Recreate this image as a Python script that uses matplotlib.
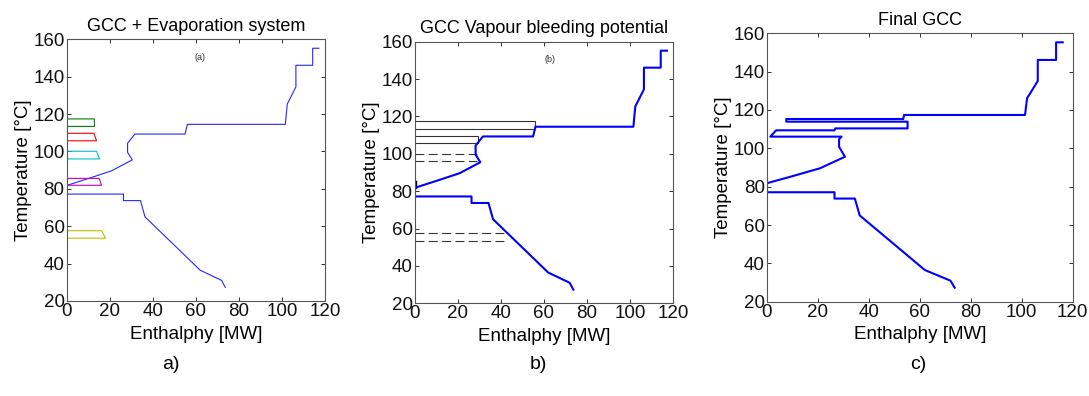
import matplotlib
matplotlib.use("Agg")
import matplotlib.pyplot as plt

plt.rcParams['font.family'] = ['Liberation Sans', 'DejaVu Sans']

# grand composite curve (panels a and b)
gcc_h = [73.7, 72.0, 62.0, 36.4, 34.3, 26.4, 26.4, 0.0, 0.0, 10.3, 20.8, 30.5, 28.3, 28.3,
         31.7, 55.0, 56.1, 101.6, 102.5, 106.5, 106.5, 114.3, 114.3, 117.2]
gcc_t = [27.3, 31.0, 36.5, 65.0, 73.7, 73.7, 77.2, 77.2, 81.8, 85.6, 89.6, 95.5, 99.5, 104.4,
         109.3, 109.3, 114.5, 114.5, 125.4, 134.5, 146.1, 146.1, 155.2, 155.2]

# final GCC (panel c)
final_h = [73.7, 72.0, 62.0, 36.4, 34.5, 26.5, 26.5, 0.0, 0.0, 10.3, 20.8, 30.6, 28.3, 28.3,
           29.3, 1.3, 3.6, 26.5, 26.8, 55.2, 55.2, 7.6, 7.6, 53.5, 53.8, 101.3, 102.1, 106.3,
           106.3, 113.5, 113.5, 116.1]
final_t = [27.3, 31.0, 36.5, 65.0, 73.8, 73.8, 77.1, 77.1, 81.8, 85.6, 89.6, 95.6, 100.8, 104.7,
           106.1, 106.1, 109.4, 109.4, 110.4, 110.4, 113.9, 113.9, 115.3, 115.3, 117.4, 117.4,
           126.1, 135.1, 146.1, 146.1, 155.3, 155.3]

# evaporation effects: top / bottom temperature and duty at each end
evap_t_top = [117.4, 109.7, 100.1, 85.6, 57.6]
evap_t_bot = [113.4, 105.7, 96.0, 81.9, 53.6]
evap_h_top = [12.8, 12.7, 13.9, 15.1, 16.2]
evap_h_bot = [13.0, 13.9, 15.3, 16.2, 18.1]
evap_colors = [(0, 0.5, 0), (1, 0, 0), (0, 0.75, 0.75), (0.75, 0, 0.75), (0.75, 0.75, 0)]

# bleeding potential levels (panel b)
bleed_h = [55.7, 29.3, 28.9, 0.0, 43.0]
bleed_style = ['-', '-', '--', '-', '--']

fig = plt.figure(figsize=(10.89, 3.96), dpi=100)
ax_a = fig.add_axes([0.0612, 0.2399, 0.2372, 0.6609])
ax_b = fig.add_axes([0.3808, 0.2340, 0.2372, 0.6607])
ax_c = fig.add_axes([0.7043, 0.2381, 0.2807, 0.6778])


def style(ax, title):
    ax.set_xlim(0, 120)
    ax.set_ylim(20, 160)
    ax.set_xticks(range(0, 121, 20))
    ax.set_yticks(range(20, 161, 20))
    ax.tick_params(direction='in', top=True, right=True, length=3, width=0.6,
                   labelsize=13.5, pad=1.5, colors='#111111')
    for s in ax.spines.values():
        s.set_linewidth(0.8)
        s.set_color('#555555')
    ax.set_xlabel('Enthalphy [MW]', fontsize=13.5, labelpad=4)
    ax.set_ylabel('Temperature [°C]', fontsize=13.5, labelpad=1)
    ax.set_title(title, fontsize=13, pad=6)


# panel a
ax_a.plot(gcc_h, gcc_t, color='blue', lw=0.8, alpha=0.85)
for tt, tb, ht, hb, c in zip(evap_t_top, evap_t_bot, evap_h_top, evap_h_bot, evap_colors):
    ax_a.plot([0, ht, hb, 0], [tt, tt, tb, tb], color=c, lw=0.8)
ax_a.text(62, 150.5, '(a)', fontsize=6.5, ha='center', va='center', color='#333333')
style(ax_a, 'GCC + Evaporation system')

# panel b
for tt, tb, h, ls in zip(evap_t_top, evap_t_bot, bleed_h, bleed_style):
    if ls == '-':
        ax_b.plot([0, h, h, 0], [tt, tt, tb, tb], color='#333333', lw=0.8)
    else:
        ax_b.plot([0, h], [tt, tt], color='#333333', lw=0.8, dashes=(8, 4))
        ax_b.plot([0, h], [tb, tb], color='#333333', lw=0.8, dashes=(8, 4))
ax_b.plot([0.4, 0.4], [evap_t_bot[3], evap_t_top[3]], color='black', lw=1.0)
ax_b.plot(gcc_h, gcc_t, color='blue', lw=1.5)
ax_b.text(62.7, 150.5, '(b)', fontsize=6.5, ha='center', va='center', color='#333333')
style(ax_b, 'GCC Vapour bleeding potential')

# panel c
ax_c.plot(final_h, final_t, color='blue', lw=1.5)
style(ax_c, 'Final GCC')

for x, lab in [(0.157, 'a)'), (0.494, 'b)'), (0.843, 'c)')]:
    fig.text(x, 0.08, lab, fontsize=14, ha='center', va='center')

fig.savefig('out.png', dpi=100)
